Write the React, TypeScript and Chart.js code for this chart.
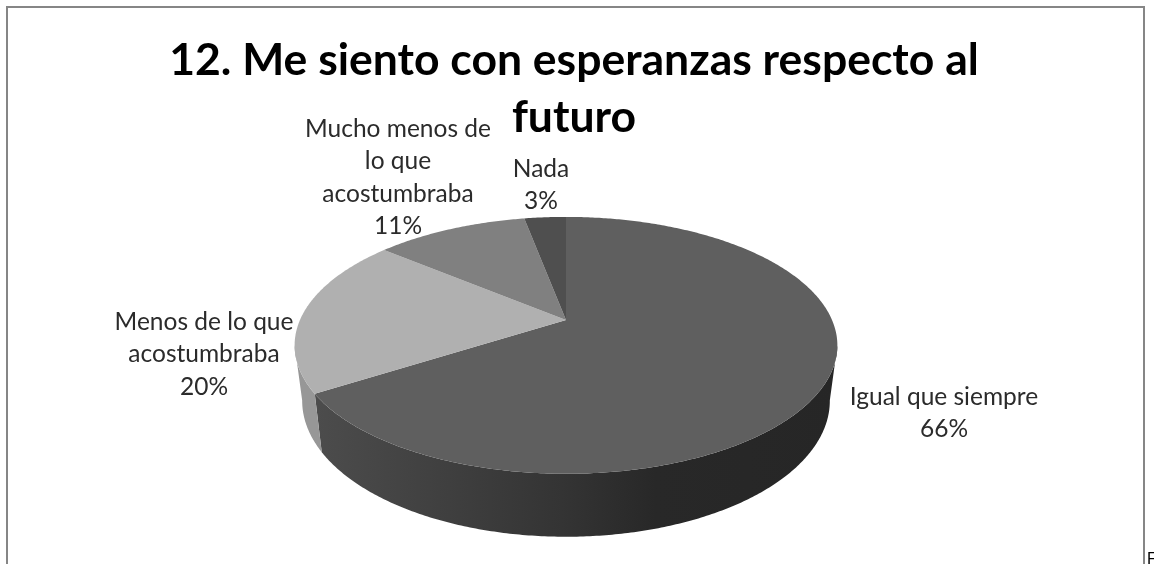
import React, { useEffect, useRef } from "react";
import { Chart, registerables, ArcElement } from "chart.js";

Chart.register(...registerables);

// Survey answers, in clockwise order from twelve o'clock.
const categories = ["Igual que siempre", "Menos de lo que acostumbraba", "Mucho menos de lo que acostumbraba", "Nada"];
const percentages = [66, 20, 11, 3];
const labelLines = [
  ["Igual que siempre"],
  ["Menos de lo que", "acostumbraba"],
  ["Mucho menos de", "lo que", "acostumbraba"],
  ["Nada"],
];
const titleLines = ["12. Me siento con esperanzas respecto al", "futuro"];

const faceColors = ["#5f5f5f", "#b0b0b0", "#808080", "#4f4f4f"];
const wallColors = ["#333333", "#979797", "#6a6a6a", "#3c3c3c"];

// Where each label's block sits relative to the pie's apex (centre x, first line y).
const labelOffsets = [
  [378, 77],
  [-362, 2],
  [-168, -191],
  [-25, -151],
];
const LABEL_LINE_HEIGHT = 32.5;

// Perspective tilt of the disc: front of the pie is nearer the camera.
const TILT = -0.198;
const FACE_SCALE_Y = 123.4 / 266;
const BASE_SCALE_X = 258.6 / 266;
const BASE_SCALE_Y = 130.6 / 266;
const BASE_DROP = 54;
const APEX_SHIFT_X = -8;
// Above this point the wall is hidden behind the top face.
const WALL_HORIZON = 0.19;

type Pt = [number, number];

function project(angle: number, r: number, cx: number, cy: number, base: boolean): Pt {
  const u = Math.cos(angle);
  const v = Math.sin(angle);
  const w = 1 + TILT * v;
  if (base) {
    return [cx + (r * BASE_SCALE_X * u) / w, cy + BASE_DROP + (r * BASE_SCALE_Y * v) / w];
  }
  return [cx + (r * u) / w, cy + (r * FACE_SCALE_Y * v) / w];
}

function sweep(start: number, end: number): number[] {
  const steps = Math.max(2, Math.ceil((end - start) / 0.01));
  const out: number[] = [];
  for (let i = 0; i <= steps; i++) out.push(start + ((end - start) * i) / steps);
  return out;
}

const pie3d = {
  id: "pie3d",
  beforeDatasetsDraw(chart: Chart) {
    const { ctx } = chart;
    const arcs = chart.getDatasetMeta(0).data as unknown as ArcElement[];
    ctx.save();
    // Side wall first, so the top face covers its upper edge.
    arcs.forEach((arc, i) => {
      const a = arc as any;
      const cx = a.x + APEX_SHIFT_X;
      const cy = a.y;
      const angles = sweep(a.startAngle, a.endAngle).filter((t) => Math.sin(t) > WALL_HORIZON);
      if (angles.length < 2) return;
      ctx.beginPath();
      angles.forEach((t, k) => {
        const [x, y] = project(t, a.outerRadius, cx, cy, false);
        if (k === 0) ctx.moveTo(x, y);
        else ctx.lineTo(x, y);
      });
      [...angles].reverse().forEach((t) => {
        const [x, y] = project(t, a.outerRadius, cx, cy, true);
        ctx.lineTo(x, y);
      });
      ctx.closePath();
      if (i === 0) {
        const g = ctx.createLinearGradient(cx - 250, 0, cx + 272, 0);
        g.addColorStop(0, "#4c4c4c");
        g.addColorStop(0.47, "#343434");
        g.addColorStop(0.65, "#282828");
        g.addColorStop(1, "#262626");
        ctx.fillStyle = g;
      } else {
        ctx.fillStyle = wallColors[i];
      }
      ctx.fill();
    });
    arcs.forEach((arc, i) => {
      const a = arc as any;
      const cx = a.x + APEX_SHIFT_X;
      const cy = a.y;
      ctx.beginPath();
      ctx.moveTo(cx, cy);
      sweep(a.startAngle, a.endAngle).forEach((t) => {
        const [x, y] = project(t, a.outerRadius, cx, cy, false);
        ctx.lineTo(x, y);
      });
      ctx.closePath();
      ctx.fillStyle = faceColors[i];
      ctx.fill();
    });
    ctx.restore();
    return false;
  },
  afterDraw(chart: Chart) {
    const { ctx } = chart;
    const arc = chart.getDatasetMeta(0).data[0] as any;
    ctx.save();
    ctx.font = '24.5px Lato, "Open Sans", sans-serif';
    ctx.fillStyle = "#2b2b2b";
    ctx.textAlign = "center";
    ctx.textBaseline = "middle";
    percentages.forEach((value, i) => {
      const x = arc.x + APEX_SHIFT_X + labelOffsets[i][0];
      const y = arc.y + labelOffsets[i][1];
      [...labelLines[i], `${value}%`].forEach((line, k) => {
        ctx.fillText(line, x, y + k * LABEL_LINE_HEIGHT);
      });
    });
    ctx.restore();
  },
};

export default function App() {
  const canvasRef = useRef<HTMLCanvasElement>(null);

  useEffect(() => {
    const canvas = canvasRef.current;
    if (!canvas) return;
    const chart = new Chart(canvas, {
      type: "pie",
      data: {
        labels: categories,
        datasets: [{ data: percentages, backgroundColor: faceColors, borderWidth: 0 }],
      },
      options: {
        responsive: false,
        animation: false,
        radius: 266,
        layout: { padding: { right: 6, bottom: 71 } },
        plugins: {
          legend: { display: false },
          tooltip: { enabled: false },
          title: {
            display: true,
            text: titleLines,
            color: "#000000",
            font: { family: 'Lato, "Open Sans", sans-serif', size: 44.5, weight: "bold", lineHeight: 1.29 },
            padding: { top: 32, bottom: 0 },
          },
        },
      },
      plugins: [pie3d],
    } as any);
    return () => chart.destroy();
  }, []);

  return (
    <div style={{ position: "fixed", left: 0, top: 0, width: 1154, height: 564, overflow: "hidden", background: "#fff" }}>
      <div
        style={{
          position: "absolute",
          left: 6,
          top: 6,
          width: 1135,
          height: 620,
          borderLeft: "2px solid #868686",
          borderTop: "2px solid #868686",
          borderRight: "2px solid #868686",
        }}
      />
      <canvas ref={canvasRef} width={1154} height={564} style={{ position: "absolute", left: 0, top: 0, display: "block" }} />
      <span
        style={{
          position: "absolute",
          left: 1147,
          top: 550,
          font: '16px/18px "Liberation Sans", sans-serif',
          color: "#000",
        }}
      >
        F
      </span>
    </div>
  );
}
